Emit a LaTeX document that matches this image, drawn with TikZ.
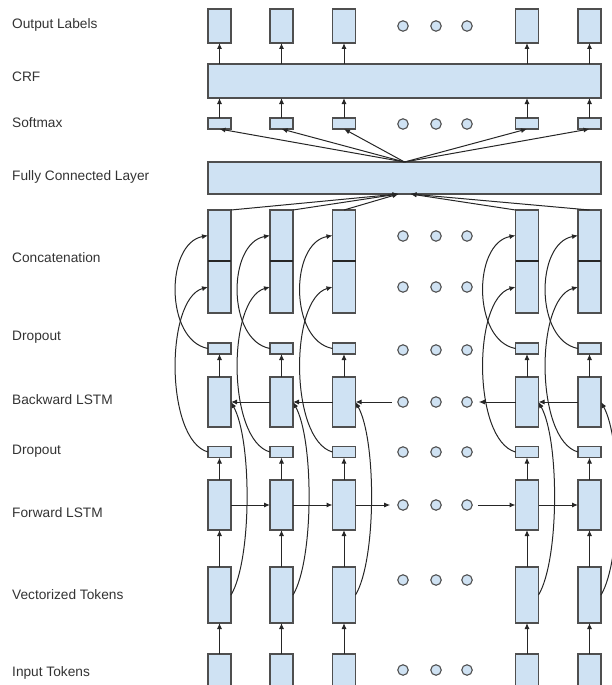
\documentclass[tikz,border=0pt]{standalone}
\usepackage{fontspec}
\setmainfont{Liberation Sans}
\usetikzlibrary{arrows.meta}

\definecolor{cellfill}{HTML}{CFE2F3}
\definecolor{cellline}{HTML}{4F4F4F}

\tikzset{
	cell/.style={draw=cellline, fill=cellfill, line width=1.2pt, inner sep=0pt, outer sep=0pt, minimum width=23pt},
	bar/.style={cell, minimum width=393pt},
	dot/.style={circle, draw=cellline, fill=cellfill, line width=1.1pt, inner sep=0pt, minimum size=10.5pt},
	lbl/.style={anchor=west, inner sep=0pt, text=black!80, font=\fontsize{13.7}{16}\selectfont},
	link/.style={->, draw=black!85, line width=1pt}
}

\begin{document}
\begin{tikzpicture}[x=1pt, y=-1pt, >={Latex[length=6pt,width=5pt]}]
		\useasboundingbox (0,0) rectangle (612,685);

		% row labels
		\node[lbl] (tOut) at (12,25) {Output Labels};
		\node[lbl] (tCrf) at (12,77) {CRF};
		\node[lbl] (tSm) at (12,123) {Softmax};
		\node[lbl] (tFc) at (12,177) {Fully Connected Layer};
		\node[lbl] (tCat) at (12,258) {Concatenation};
		\node[lbl] (tDu) at (12,337) {Dropout};
		\node[lbl] (tBw) at (12,400) {Backward LSTM};
		\node[lbl] (tDl) at (12,451) {Dropout};
		\node[lbl] (tFw) at (12,513) {Forward LSTM};
		\node[lbl] (tVec) at (12,595) {Vectorized Tokens};
		\node[lbl] (tIn) at (12,673) {Input Tokens};

		% wide layers
		\node[bar, minimum height=34pt] (crf) at (404.5,81) {};
		\node[bar, minimum height=32pt] (fc) at (404.5,178) {};

		% the dots standing for the hidden columns
		\foreach \n/\y in {out/26, sm/124, ca/236, cb/287, du/350, bw/402, dl/452, fw/505, vc/580, in/670}
			\foreach \x [count=\k] in {403,436,467}
				\node[dot] (\n dot\k) at (\x,\y) {};

		% one column per token
		\foreach \i/\x/\top/\dx in {1/219.5/north east/-6, 2/281.5/north east/-6, 3/344/north/-6, 4/527/north west/6, 5/589.5/north/6} {
			\node[cell, minimum height=34pt] (o\i) at (\x,26) {};
			\node[cell, minimum height=11pt] (s\i) at (\x,123.5) {};
			\node[cell, minimum height=51pt] (ca\i) at (\x,235.5) {};
			\node[cell, minimum height=52pt] (cb\i) at (\x,287) {};
			\draw[draw=black!85, line width=2pt] (cb\i.north west) -- (cb\i.north east);
			\node[cell, minimum height=11pt] (du\i) at (\x,348.5) {};
			\node[cell, minimum height=50pt] (b\i) at (\x,402) {};
			\node[cell, minimum height=11pt] (dl\i) at (\x,452) {};
			\node[cell, minimum height=50pt] (f\i) at (\x,505) {};
			\node[cell, minimum height=56pt] (v\i) at (\x,595) {};
			\node[cell, minimum height=46pt] (in\i) at (\x,677) {};

			\draw[link] (in\i) -- (v\i);
			\draw[link] (v\i) -- (f\i);
			\draw[link] (f\i) -- (dl\i);
			\draw[link] (b\i) -- (du\i);
			\draw[link] (s\i.north) -- (s\i.north |- crf.south);
			\draw[link] (crf.north -| o\i.south) -- (o\i.south);
			\draw[link] (fc.north) -- (s\i.south);
			\draw[link] (ca\i.\top) -- ([xshift=\dx pt]fc.south);

			\draw[link] (du\i.west) .. controls +(-43,-8) and +(-43,8) .. (ca\i.west);
			\draw[link] (dl\i.west) .. controls +(-43,-12) and +(-43,12) .. (cb\i.west);
			\draw[link] (v\i.east) .. controls +(21,-35) and +(21,38) .. (b\i.east);
		}

		% forward pass
		\draw[link] (f1) -- (f2);
		\draw[link] (f2) -- (f3);
		\draw[link, shorten >=7pt] (f3) -- (fwdot1);
		\draw[link, shorten <=5pt] (fwdot3) -- (f4);
		\draw[link] (f4) -- (f5);

		% backward pass
		\draw[link] (b5) -- (b4);
		\draw[link, shorten >=6pt] (b4) -- (bwdot3);
		\draw[link, shorten <=5pt] (bwdot1) -- (b3);
		\draw[link] (b3) -- (b2);
		\draw[link] (b2) -- (b1);
	\end{tikzpicture}
\end{document}
